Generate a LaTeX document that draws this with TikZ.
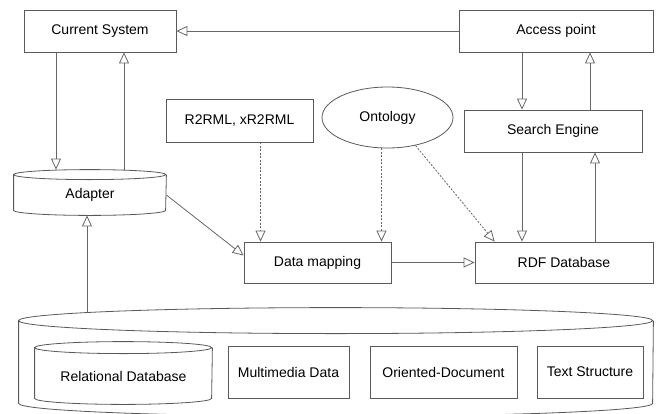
\documentclass[tikz,border=0pt]{standalone}
\usepackage{fontspec}
\setmainfont{Liberation Sans}
\usetikzlibrary{arrows.meta, shapes.geometric, positioning}
\tikzstyle{box}=[draw=black!65,rectangle,inner sep=0pt,line width=0.8pt,font=\fontsize{14}{16}\selectfont]
\tikzstyle{dbase}=[box,draw=none]
\tikzstyle{oval}=[box,ellipse]
\tikzstyle{flow}=[draw=black!60,line width=0.8pt,-{Triangle[open,length=11pt,width=10pt]}]
\tikzstyle{uses}=[flow,dash pattern=on 2pt off 1.5pt]
% cylinder outline round a node: name, x radius, y radius
\newcommand{\dbwall}[3]{
    \draw[draw=black!65,line width=0.8pt,fill=white] (#1.north west)
        arc[start angle=180,end angle=-180,x radius=#2,y radius=#3]
        -- ([yshift=#3]#1.south west)
        arc[start angle=180,end angle=360,x radius=#2,y radius=#3]
        -- (#1.north east);}

\begin{document}
\begin{tikzpicture}[x=1pt,y=-1pt]
    \useasboundingbox (0,0) rectangle (656,413);
    % storage layer
    \node[dbase,minimum width=634pt,minimum height=95pt] (big) at (336,368.5) {};
    \dbwall{big}{317pt}{13pt}
    \node[dbase,minimum width=177pt,minimum height=56pt] (rel) at (123.5,376) {};
    \dbwall{rel}{88.5pt}{6pt}
    \node[dbase,minimum width=177pt,minimum height=56pt] at (rel) {Relational Database};
    \node[dbase,minimum width=152pt,minimum height=40pt] (adp) at (90,195) {};
    \dbwall{adp}{76pt}{5pt}
    \node[dbase] at (adp) {Adapter};
    \foreach \n/\p/\w/\h/\t in {cs/{100,31}/152/42/Current System, ap/{556,31}/194/42/Access point,
            r2r/{239.5,120.5}/147/43/{R2RML, xR2RML}, se/{553,131}/178/42/Search Engine,
            map/{317.5,262.5}/147/41/Data mapping, rdf/{564,262.5}/178/41/RDF Database,
            mm/{288.5,372}/121/52/Multimedia Data, od/{443.5,372}/147/52/Oriented-Document,
            ts/{590,372}/106/52/Text Structure}
        \node[box,minimum width=\w pt,minimum height=\h pt] (\n) at (\p) {\t};
    \node[oval,minimum width=131pt,minimum height=61pt] (ont) at (387.5,117.5) {Ontology};
    \coordinate (bt) at (87,313);
    % links
    \draw[flow] (ap.west) -- (cs.east);
    \draw[flow] ([xshift=-44pt]cs.south) -- ([xshift=-44pt,yshift=5pt]cs.south |- adp.north);
    \draw[flow] ([xshift=24pt,yshift=5pt]cs.south |- adp.north) -- ([xshift=24pt]cs.south);
    \draw[flow] (bt) -- (bt |- adp.south);
    \draw[flow] (adp.east) -- ([yshift=7pt]map.west);
    \draw[uses] ([xshift=21pt]r2r.south) -- ([xshift=21pt]r2r.south |- map.north);
    \draw[uses] ([xshift=-6pt]ont.south) -- ([xshift=-6pt]ont.south |- map.north);
    \draw[uses] (ont.-45) -- ([xshift=20pt]rdf.north west);
    \draw[flow] (map.east) -- (rdf.west);
    \draw[flow] ([xshift=-34pt]ap.south) -- ([xshift=-34pt]ap.south |- se.north);
    \draw[flow] ([xshift=34pt]ap.south |- se.north) -- ([xshift=34pt]ap.south);
    \draw[flow] ([xshift=-31pt]se.south) -- ([xshift=-31pt]se.south |- rdf.north);
    \draw[flow] ([xshift=42pt]se.south |- rdf.north) -- ([xshift=42pt]se.south);
\end{tikzpicture}
\end{document}
